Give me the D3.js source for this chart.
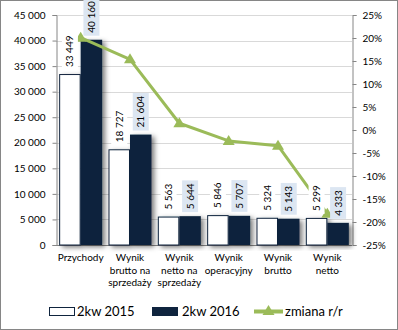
<!DOCTYPE html>
<html><head><meta charset="utf-8">
<script src="https://cdn.jsdelivr.net/npm/d3@7/dist/d3.min.js"></script>
<style>body{margin:0;background:#fff}svg{display:block;font-family:Lato,"Liberation Sans",sans-serif}</style>
</head><body><svg id="c" width="398" height="330"></svg>
<script>
const categories = [["Przychody"],["Wynik","brutto na","sprzedaży"],["Wynik","netto na","sprzedaży"],["Wynik","operacyjny"],["Wynik","brutto"],["Wynik","netto"]];
const values2015 = [33449, 18727, 5563, 5846, 5324, 5299];
const values2016 = [40160, 21604, 5644, 5707, 5143, 4333];
const changeYoY = [20.06, 15.36, 1.46, -2.38, -3.40, -18.23];
const leftTicks = [0,5000,10000,15000,20000,25000,30000,35000,40000,45000];
const rightTicks = [-25,-20,-15,-10,-5,0,5,10,15,20,25];
const seriesNames = ["2kw 2015","2kw 2016","zmiana r/r"];

const svg = d3.select("#c");
const L=56, R=352, T=15, B=245;
const navy="#0f243e", green="#9bbb59", axisC="#868686", gridC="#d9d9d9";
const fmt = v => d3.format(",")(v).replace(/,/g," ");

const defs = svg.append("defs");
const f = defs.append("filter").attr("id","sh").attr("x","-50%").attr("y","-20%").attr("width","200%").attr("height","140%");
f.append("feDropShadow").attr("dx",3).attr("dy",2).attr("stdDeviation",2.5).attr("flood-color","#000").attr("flood-opacity",0.5);

svg.append("rect").attr("x",0.5).attr("y",0.5).attr("width",397).attr("height",329).attr("fill","#fff").attr("stroke",axisC);

const x = d3.scaleBand().domain(d3.range(categories.length)).range([L,R]).paddingInner(0).paddingOuter(0);
const y = d3.scaleLinear().domain([0,45000]).range([B,T]);
const y2 = d3.scaleLinear().domain([-25,25]).range([B,T]);
const groupW = x.bandwidth()*0.872;
const xs = d3.scaleBand().domain([0,1]).range([0,groupW]);

// grid
svg.append("g").selectAll("line").data(leftTicks.filter(d=>d>0)).join("line")
  .attr("x1",L).attr("x2",R).attr("y1",d=>Math.round(y(d))+0.5).attr("y2",d=>Math.round(y(d))+0.5)
  .attr("stroke",gridC);

// axes
const ax = svg.append("g").attr("transform",`translate(${L+0.5},0)`)
  .call(d3.axisLeft(y).tickValues(leftTicks).tickFormat(fmt).tickSize(4).tickPadding(7));
const ax2 = svg.append("g").attr("transform",`translate(${R+0.5},0)`)
  .call(d3.axisRight(y2).tickValues(rightTicks).tickFormat(d=>d+"%").tickSize(4).tickPadding(6));
[ax,ax2].forEach(a=>{a.select(".domain").attr("stroke",axisC);a.selectAll(".tick line").attr("stroke",axisC);
  a.selectAll("text").attr("font-size",10).attr("fill","#000").attr("font-family","Lato,sans-serif");});
svg.append("line").attr("x1",L).attr("x2",R).attr("y1",B+0.5).attr("y2",B+0.5).attr("stroke",axisC);

// bars
const groups = svg.append("g").selectAll("g").data(categories.map((c,i)=>i)).join("g")
  .attr("transform",i=>`translate(${x(i)+(x.bandwidth()-groupW)/2},0)`);
groups.append("rect").attr("x",xs(0)+0.5).attr("width",xs.bandwidth()-1)
  .attr("y",i=>y(values2015[i])+0.5).attr("height",i=>B-y(values2015[i])-0.5)
  .attr("fill","#fff").attr("stroke",navy).attr("filter","url(#sh)");
groups.append("rect").attr("x",xs(1)).attr("width",xs.bandwidth())
  .attr("y",i=>y(values2016[i])).attr("height",i=>B-y(values2016[i]))
  .attr("fill",navy).attr("filter","url(#sh)");

// line
const cx = i => x(i)+x.bandwidth()/2;
svg.append("path").datum(changeYoY).attr("fill","none").attr("stroke",green).attr("stroke-width",3).attr("stroke-linejoin","round")
  .attr("d",d3.line().x((d,i)=>cx(i)).y(d=>y2(d)));
const tri = "M0,-6L6,4L-6,4Z";
svg.append("g").selectAll("path").data(changeYoY).join("path")
  .attr("transform",(d,i)=>`translate(${cx(i)},${y2(d)})`).attr("d",tri).attr("fill",green);

// data labels
function label(i, v, sx, bg){
  const g = svg.append("g").attr("transform",`translate(${x(i)+(x.bandwidth()-groupW)/2+xs(sx)+xs.bandwidth()/2},${y(v)-7}) rotate(-90)`);
  const r = g.append("rect").attr("fill",bg);
  const t = g.append("text").attr("x",0).attr("y",0).attr("dy","0.35em").attr("font-size",10).attr("fill","#000").text(fmt(v));
  const w = t.node().getComputedTextLength();
  r.attr("x",-3).attr("y",-8).attr("width",w+6).attr("height",16);
}
values2015.forEach((v,i)=>label(i,v,0,"#fff"));
values2016.forEach((v,i)=>label(i,v,1,"#dce6f2"));

// category labels
categories.forEach((lines,i)=>{
  const t = svg.append("text").attr("text-anchor","middle").attr("font-size",10).attr("fill","#000");
  lines.forEach((s,j)=>t.append("tspan").attr("x",cx(i)).attr("y",261+j*12.5).text(s));
});

// legend
const lg = svg.append("g").attr("font-size",13).attr("fill","#000");
lg.append("rect").attr("x",49.5).attr("y",307.5).attr("width",25).attr("height",8).attr("fill","#fff").attr("stroke",navy);
lg.append("text").attr("x",77).attr("y",316).text(seriesNames[0]);
lg.append("rect").attr("x",152).attr("y",307).attr("width",26).attr("height",9).attr("fill",navy);
lg.append("text").attr("x",182).attr("y",316).text(seriesNames[1]);
lg.append("line").attr("x1",254).attr("x2",283).attr("y1",311.5).attr("y2",311.5).attr("stroke",green).attr("stroke-width",4);
lg.append("path").attr("transform","translate(268.5,311)").attr("d",tri).attr("fill",green);
lg.append("text").attr("x",285).attr("y",316).text(seriesNames[2]);
</script></body></html>
